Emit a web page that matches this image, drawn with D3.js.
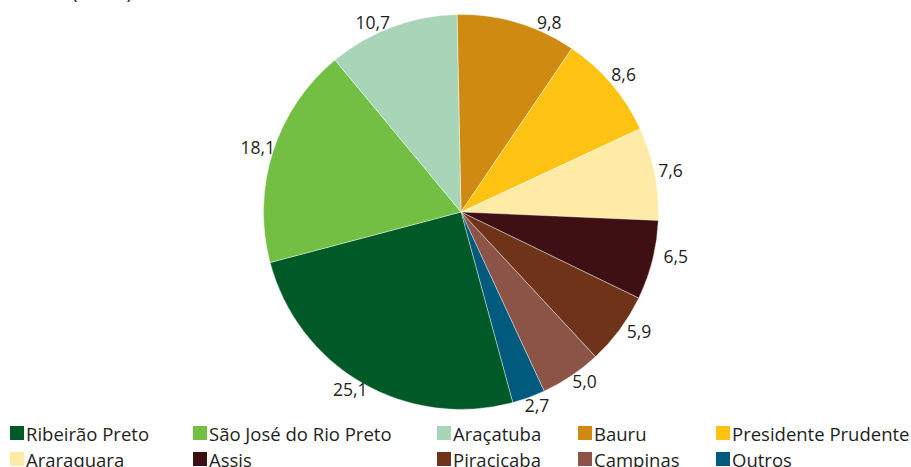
<!DOCTYPE html>
<html>
<head>
<meta charset="utf-8">
<script src="https://cdn.jsdelivr.net/npm/d3@7"></script>
<style>
  html, body { margin: 0; padding: 0; background: #fff; }
  svg { display: block; }
  text { font-family: "Open Sans", "Noto Sans", sans-serif; fill: #231f20; }
</style>
</head>
<body>
<svg id="chart" width="911" height="467"></svg>
<script>
// Regions, in clockwise order from 12 o'clock
const regions = ["Bauru", "Presidente Prudente", "Araraquara", "Assis", "Piracicaba",
                 "Campinas", "Outros", "Ribeirão Preto", "São José do Rio Preto", "Araçatuba"];
const shares  = [9.8, 8.6, 7.6, 6.5, 5.9, 5.0, 2.7, 25.1, 18.1, 10.7];
const colors  = ["#cf8a12", "#fdc212", "#ffeba6", "#3f1013", "#6e3319",
                 "#8b5446", "#005a7d", "#005a27", "#72bf44", "#a8d5b8"];

// Legend order (two rows of five)
const legendOrder = ["Ribeirão Preto", "São José do Rio Preto", "Araçatuba", "Bauru", "Presidente Prudente",
                     "Araraquara", "Assis", "Piracicaba", "Campinas", "Outros"];
const unitLabel = "(em %)";

const svg = d3.select("#chart");
const cx = 461, cy = 212, radius = 197.5;
const fmt = v => d3.format(".1f")(v).replace(".", ",");

const color = d3.scaleOrdinal().domain(regions).range(colors);
const data = regions.map((r, i) => ({ region: r, value: shares[i] }));

const startOffset = -0.02;
const pie = d3.pie().value(d => d.value).sort(null)
  .startAngle(startOffset).endAngle(2 * Math.PI + startOffset);
const arc = d3.arc().innerRadius(0).outerRadius(radius);
const arcs = pie(data);

// unit caption, mostly above the visible area
svg.append("text").attr("x", 72).attr("y", -1)
  .style("font-size", "19px").text(unitLabel);

const g = svg.append("g").attr("transform", `translate(${cx},${cy})`);
g.selectAll("path").data(arcs).join("path")
  .attr("d", arc)
  .attr("fill", d => color(d.data.region))
  .attr("stroke", "#ffffff")
  .attr("stroke-width", 0.4);

// value labels just outside the rim
const labelR = radius + 16;
const minY = 22 - cy;
g.selectAll("text.val").data(arcs).join("text")
  .attr("class", "val")
  .style("font-size", "17.5px")
  .attr("text-anchor", "middle")
  .attr("dominant-baseline", "central")
  .each(function (d) {
    const a = (d.startAngle + d.endAngle) / 2;
    const ux = Math.sin(a), uy = -Math.cos(a);
    let x = labelR * ux + (uy > 0 ? ux * 8 : 0);
    let y = labelR * uy - (uy > 0 ? 8 : 0);
    if (y < minY) {
      const rr = labelR - 4;
      y = minY;
      x = Math.sign(ux) * Math.sqrt(rr * rr - y * y);
    }
    d3.select(this).attr("x", x).attr("y", y).text(fmt(d.data.value));
  });

// legend
const colX = [10, 193, 437, 578, 716];
const rowY = [426, 452];
const sw = 14;
const leg = svg.append("g");
legendOrder.forEach((name, i) => {
  const x = colX[i % 5], y = rowY[Math.floor(i / 5)];
  leg.append("rect").attr("x", x).attr("y", y).attr("width", sw).attr("height", sw)
    .attr("fill", color(name));
  leg.append("text").attr("x", x + sw + 2).attr("y", y + sw / 2)
    .attr("dominant-baseline", "central")
    .style("font-size", "18.5px").text(name);
});
</script>
</body>
</html>
